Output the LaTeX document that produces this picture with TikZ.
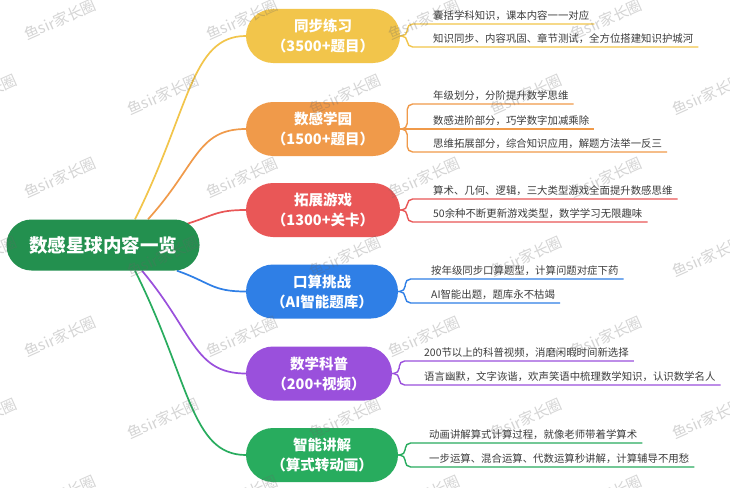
\documentclass[tikz,border=0pt]{standalone}
\usepackage{fontspec}
\setmainfont{Noto Sans CJK SC}
\usetikzlibrary{backgrounds}

\definecolor{rootgreen}{HTML}{23904F}
\definecolor{cyellow}{HTML}{F2C54B}
\definecolor{corange}{HTML}{F09A4A}
\definecolor{cred}{HTML}{E95757}
\definecolor{cblue}{HTML}{2F7FE6}
\definecolor{cpurple}{HTML}{9A50DC}
\definecolor{cgreen}{HTML}{28AC5E}
\definecolor{leafgray}{HTML}{3C3C3C}

\begin{document}
\begin{tikzpicture}[x=1pt, y=-1pt,
	root/.style={fill=rootgreen, text=white, rounded corners=25pt, minimum width=193pt, minimum height=51pt, font=\bfseries\fontsize{18.5}{22}\selectfont},
	topic/.style={fill=#1, text=white, rounded corners=27pt, minimum width=154pt, minimum height=54pt, align=center, font=\bfseries\fontsize{14.5}{20}\selectfont},
	leaf/.style={anchor=south west, inner xsep=0pt, inner ysep=3pt, text depth=0.15em, text=leafgray, font=\fontsize{10.4}{12}\selectfont},
	link/.style={draw=#1, line width=1.7pt},
	twig/.style={draw=#1, line width=1.4pt, rounded corners=5.5pt},
	wmark/.style={rotate=24, text=black!60, opacity=0.28, font=\fontsize{15}{15}\selectfont}]
	\useasboundingbox (0,0) rectangle (730,487);
	% root and topics
	\node[root] (root) at (103,245) {数感星球内容一览};
	\node[topic=cyellow] (t1) at (323,36) {同步练习\\（3500+题目）};
	\node[topic=corange] (t2) at (323,129) {数感学园\\（1500+题目）};
	\node[topic=cred] (t3) at (323,210) {拓展游戏\\（1300+关卡）};
	\node[topic=cblue, minimum width=152pt] (t4) at (322,291.5) {口算挑战\\（AI智能题库）};
	\node[topic=cpurple, minimum width=146pt] (t5) at (319,373.5) {数学科普\\（200+视频）};
	\node[topic=cgreen, minimum width=152pt] (t6) at (322,455) {智能讲解\\（算式转动画）};
	% leaves
	\node[leaf] (l11) at (433,24) {囊括学科知识，课本内容一一对应};
	\node[leaf] (l12) at (433,47) {知识同步、内容巩固、章节测试，全方位搭建知识护城河};
	\node[leaf] (l21) at (433,104) {年级划分，分阶提升数学思维};
	\node[leaf] (l22) at (433,129) {数感进阶部分，巧学数字加减乘除};
	\node[leaf] (l23) at (433,152) {思维拓展部分，综合知识应用，解题方法举一反三};
	\node[leaf] (l31) at (433,199) {算术、几何、逻辑，三大类型游戏全面提升数感思维};
	\node[leaf] (l32) at (433,222) {50余种不断更新游戏类型，数学学习无限趣味};
	\node[leaf] (l41) at (431,279) {按年级同步口算题型，计算问题对症下药};
	\node[leaf] (l42) at (431,303) {AI智能出题，题库永不枯竭};
	\node[leaf] (l51) at (424,361) {200节以上的科普视频，消磨闲暇时间新选择};
	\node[leaf] (l52) at (424,385) {语言幽默，文字诙谐，欢声笑语中梳理数学知识，认识数学名人};
	\node[leaf] (l61) at (429,443) {动画讲解算式计算过程，就像老师带着学算术};
	\node[leaf] (l62) at (429,467) {一步运算、混合运算、代数运算秒讲解，计算辅导不用愁};
	% brackets to the leaves
	\draw[twig=cyellow] (t1.east) -- ++(7,0) |- ([xshift=5pt]l11.south east);
	\draw[twig=cyellow] (t1.east) -- ++(7,0) |- ([xshift=5pt]l12.south east);
	\draw[twig=corange] (t2.east) -- ++(7,0) |- ([xshift=5pt]l21.south east);
	\draw[twig=corange] (t2.east) -- ([xshift=5pt]l22.south east);
	\draw[twig=corange] (t2.east) -- ++(7,0) |- ([xshift=5pt]l23.south east);
	\draw[twig=cred] (t3.east) -- ++(7,0) |- ([xshift=5pt]l31.south east);
	\draw[twig=cred] (t3.east) -- ++(7,0) |- ([xshift=5pt]l32.south east);
	\draw[twig=cblue] (t4.east) -- ++(7,0) |- ([xshift=5pt]l41.south east);
	\draw[twig=cblue] (t4.east) -- ++(7,0) |- ([xshift=5pt]l42.south east);
	\draw[twig=cpurple] (t5.east) -- ++(7,0) |- ([xshift=5pt]l51.south east);
	\draw[twig=cpurple] (t5.east) -- ++(7,0) |- ([xshift=5pt]l52.south east);
	\draw[twig=cgreen] (t6.east) -- ++(7,0) |- ([xshift=5pt]l61.south east);
	\draw[twig=cgreen] (t6.east) -- ++(7,0) |- ([xshift=5pt]l62.south east);
	% links from the root, behind the nodes
	\begin{scope}[on background layer]
		\fill[white] (0,0) rectangle (730,487);
		\draw[link=cyellow] ([xshift=32pt]root.north) .. controls +(55,-110) and +(-55,0) .. (t1.west);
		\draw[link=corange] ([xshift=45pt]root.north) .. controls +(49,-54) and +(-49,0) .. (t2.west);
		\draw[link=cred] ([shift={(80,-20)}]root.center) .. controls +(31,-9) and +(-31,0) .. (t3.west);
		\draw[link=cblue] ([xshift=74pt]root.south) .. controls +(34,12) and +(-34,0) .. (t4.west);
		\draw[link=cpurple] ([xshift=39pt]root.south) .. controls +(52,62) and +(-52,0) .. (t5.west);
		\draw[link=cgreen] ([xshift=32pt]root.south) .. controls +(55,110) and +(-55,0) .. (t6.west);
	\end{scope}
	% watermark
	\begin{scope}
		\clip (0,0) rectangle (730,487);
		\foreach \y [count=\j] in {20,178,337,496}
			\foreach \x [count=\i] in {60,242,424,606}
				\node[wmark] (wa\i-\j) at (\x,\y) {鱼sir家长圈};
		\foreach \y [count=\j] in {95,257,419}
			\foreach \x [count=\i] in {-19,163,345,526,708}
				\node[wmark] (wb\i-\j) at (\x,\y) {鱼sir家长圈};
	\end{scope}
\end{tikzpicture}
\end{document}
